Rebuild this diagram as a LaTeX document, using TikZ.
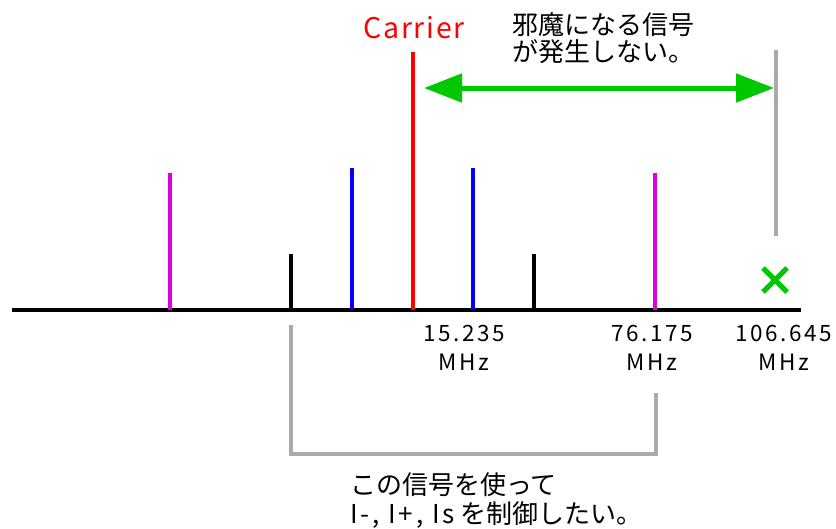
\documentclass[tikz,border=0pt]{standalone}
\usepackage{fontspec}
\setmainfont{Noto Sans CJK JP}
\usetikzlibrary{arrows.meta}
\definecolor{mag}{RGB}{221,0,221}
\definecolor{blu}{RGB}{0,0,255}
\definecolor{rd}{RGB}{255,0,0}
\definecolor{gry}{RGB}{170,170,170}
\definecolor{grn}{RGB}{0,200,0}
\newcommand{\lsp}{\addfontfeatures{LetterSpace=11}}
\tikzset{
  spike/.style={line width=4pt},
  freqlabel/.style={align=center,font=\fontsize{22.5}{29}\selectfont\lsp,inner sep=0pt},
  jtext/.style={align=left,font=\fontsize{26}{27}\selectfont,inner sep=0pt},
}
\begin{document}
\begin{tikzpicture}[x=1pt,y=-1pt]
\useasboundingbox (0,0) rectangle (836,528);
% baseline
\coordinate (b0) at (12,310);
\coordinate (b1) at (801,310);
\draw[line width=4pt] (b0) -- (b1);
% spikes
\coordinate (m1b) at (170,310); \coordinate (m1t) at (170,173);
\coordinate (k1b) at (291,310); \coordinate (k1t) at (291,254);
\coordinate (u1b) at (352,310); \coordinate (u1t) at (352,168);
\coordinate (cb) at (413,310);  \coordinate (ct) at (413,52);
\coordinate (u2b) at (473,310); \coordinate (u2t) at (473,168);
\coordinate (k2b) at (534,310); \coordinate (k2t) at (534,254);
\coordinate (m2b) at (655,310); \coordinate (m2t) at (655,173);
\draw[spike,mag] (m1b) -- (m1t);
\draw[spike,black] (k1b) -- (k1t);
\draw[spike,blu] (u1b) -- (u1t);
\draw[spike,rd] (cb) -- (ct);
\draw[spike,blu] (u2b) -- (u2t);
\draw[spike,black] (k2b) -- (k2t);
\draw[spike,mag] (m2b) -- (m2t);
% gray marker
\coordinate (gt) at (776,50);
\coordinate (gb) at (776,236);
\draw[spike,gry] (gt) -- (gb);
% green arrow
\coordinate (al) at (424,88);
\coordinate (ar) at (774,88);
\draw[grn,line width=5pt,{Triangle[length=38pt,width=28pt]}-{Triangle[length=38pt,width=28pt]}] (al) -- (ar);
% green cross
\coordinate (x1) at (763,268); \coordinate (x2) at (787,292);
\coordinate (x3) at (763,292); \coordinate (x4) at (787,268);
\draw[grn,line width=5pt] (x1) -- (x2) (x3) -- (x4);
% bracket
\coordinate (br1) at (291,325);
\coordinate (br2) at (291,454);
\coordinate (br3) at (656,454);
\coordinate (br4) at (656,393);
\draw[gry,line width=4pt] (br1) -- (br2) -- (br3) -- (br4);
% texts
\node[rd,font=\fontsize{28.5}{30}\selectfont\addfontfeatures{LetterSpace=6},inner sep=0pt] (carrier) at (414,28) {Carrier};
\node[jtext,anchor=west] (jam) at (512,38) {邪魔になる信号\\が発生しない。};
\node[freqlabel] (f1) at (464,348) {15.235\\MHz};
\node[freqlabel] (f2) at (652,348) {76.175\\MHz};
\node[freqlabel] (f3) at (784,348) {106.645\\MHz};
\node[jtext,anchor=west,font=\fontsize{26}{29}\selectfont] (ctl) at (350,501) {この信号を使って\\{\lsp I-, I+, Is} を制御したい。};
\end{tikzpicture}
\end{document}
